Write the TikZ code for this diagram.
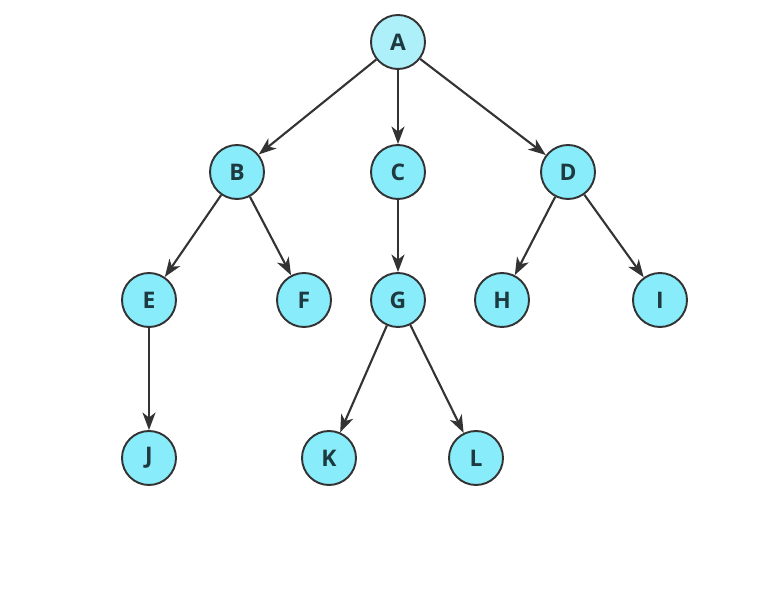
\documentclass[tikz,border=0pt]{standalone}
\usepackage{fontspec}
\setmainfont{Open Sans}
\usetikzlibrary{arrows.meta,positioning}
\definecolor{nodefill}{HTML}{88ECFA}
\definecolor{rootfill}{HTML}{AEF0FA}
\definecolor{edgegray}{HTML}{333333}
\definecolor{labeltext}{HTML}{1E3A40}

\begin{document}
\begin{tikzpicture}[x=0.02cm, y=-0.02cm,
    every node/.style={align=center},
    treenode/.style={draw=edgegray, circle, line width=1.1pt, fill=nodefill, minimum size=1.08cm, inner sep=0pt, text=labeltext, font=\fontsize{13}{15}\selectfont\bfseries},
    treeedge/.style={draw=edgegray, line width=1.2pt, -{Stealth[length=3.5mm, width=2.6mm, inset=1mm]}}]
  \useasboundingbox (0,0) rectangle (784,590);
  \node[treenode, fill=rootfill] (A) at (398,42) {A};
  \node[treenode] (B) at (237,172) {B};
  \node[treenode] (C) at (398,172) {C};
  \node[treenode] (D) at (568,172) {D};
  \node[treenode] (E) at (149,300) {E};
  \node[treenode] (F) at (304,300) {F};
  \node[treenode] (G) at (398,300) {G};
  \node[treenode] (H) at (502,300) {H};
  \node[treenode] (I) at (660,300) {I};
  \node[treenode] (J) at (149,458) {J};
  \node[treenode] (K) at (329,458) {K};
  \node[treenode] (L) at (476,458) {L};
  \draw[treeedge] (A) -- (B);
  \draw[treeedge] (A) -- (C);
  \draw[treeedge] (A) -- (D);
  \draw[treeedge] (B) -- (E);
  \draw[treeedge] (B) -- (F);
  \draw[treeedge] (C) -- (G);
  \draw[treeedge] (D) -- (H);
  \draw[treeedge] (D) -- (I);
  \draw[treeedge] (E) -- (J);
  \draw[treeedge] (G) -- (K);
  \draw[treeedge] (G) -- (L);
\end{tikzpicture}
\end{document}
